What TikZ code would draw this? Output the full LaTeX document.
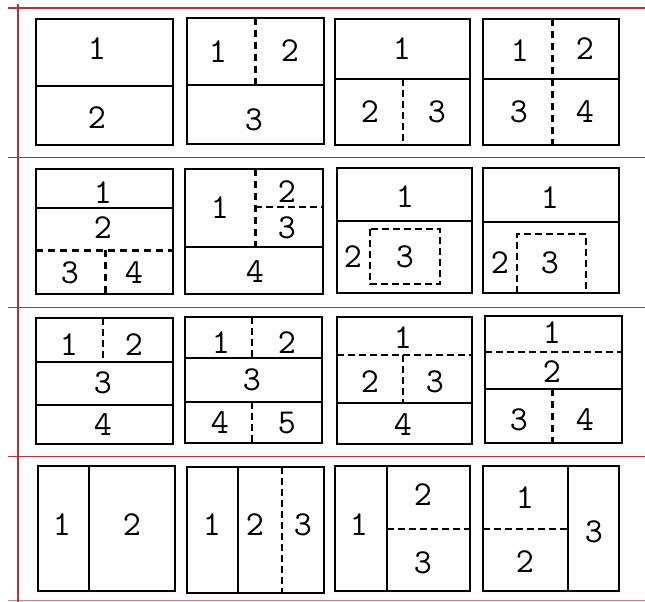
\documentclass[tikz,border=0pt]{standalone}
\definecolor{rule}{RGB}{180,50,60}
\begin{document}
\begin{tikzpicture}[x=1pt, y=-1pt,
    box/.style={draw, line width=1.4pt},
    cut/.style={line width=1.4pt},
    cutthick/.style={line width=2.2pt},
    dsh/.style={line width=1.3pt, dash pattern=on 7pt off 4pt},
    dshthick/.style={line width=3pt, dash pattern=on 7pt off 5pt},
    every node/.style={font=\ttfamily\fontsize{35}{35}\selectfont, inner sep=0pt}]
    \useasboundingbox (0,0) rectangle (645,602);

    % 红色分隔线
    \draw[rule, line width=2.4pt] (8,8) -- (645,8);
    \draw[rule, line width=1pt] (8,157) -- (645,157);
    \draw[rule, line width=1pt] (8,307) -- (645,307);
    \draw[rule, line width=1pt] (8,456) -- (645,456);
    \draw[rule!60, line width=1pt] (8,600) -- (645,600);
    \draw[rule, line width=1.2pt] (18,4) -- (18,602);

    % 第一行
    \draw[box] (36,19) rectangle (173,145);
    \draw[cut] (36,86) -- (173,86);
    \node (a1-1) at (97,49) {1};
    \node (a1-2) at (97,118) {2};

    \draw[box] (187,18) rectangle (324,144);
    \draw[cut] (187,85) -- (324,85);
    \draw[dshthick] (255,18) -- (255,85);
    \node (a2-1) at (218,52) {1};
    \node (a2-2) at (290,51) {2};
    \node (a2-3) at (254,120) {3};

    \draw[box] (335,19) rectangle (470,145);
    \draw[cut] (335,79) -- (470,79);
    \draw[dsh] (403,79) -- (403,145);
    \node (a3-1) at (402,49) {1};
    \node (a3-2) at (370,112) {2};
    \node (a3-3) at (437,112) {3};

    \draw[box] (483,19) rectangle (619,145);
    \draw[cut] (483,79) -- (619,79);
    \draw[dshthick] (552,19) -- (552,145);
    \node (a4-1) at (520,51) {1};
    \node (a4-2) at (585,49) {2};
    \node (a4-3) at (519,112) {3};
    \node (a4-4) at (585,112) {4};

    % 第二行
    \draw[box] (36,169) rectangle (173,294);
    \draw[cut] (36,208) -- (173,208);
    \draw[dshthick] (36,250) -- (173,250);
    \draw[dshthick] (105,250) -- (105,294);
    \node (b1-1) at (103,193) {1};
    \node (b1-2) at (103,228) {2};
    \node (b1-3) at (70,273) {3};
    \node (b1-4) at (134,273) {4};

    \draw[box] (185,169) rectangle (323,294);
    \draw[cut] (185,247) -- (323,247);
    \draw[dshthick] (255,169) -- (255,247);
    \draw[dsh] (255,207) -- (323,207);
    \node (b2-1) at (220,208) {1};
    \node (b2-2) at (287,192) {2};
    \node (b2-3) at (287,228) {3};
    \node (b2-4) at (255,272) {4};

    \draw[box] (337,168) rectangle (472,293);
    \draw[cut] (337,221) -- (472,221);
    \draw[dsh] (370,229) rectangle (440,284);
    \node (b3-1) at (405,197) {1};
    \node (b3-2) at (353,257) {2};
    \node (b3-3) at (405,257) {3};

    \draw[box] (483,168) rectangle (619,293);
    \draw[cut] (483,222) -- (619,222);
    \draw[dsh] (517,293) -- (517,234) -- (586,234) -- (586,293);
    \node (b4-1) at (550,198) {1};
    \node (b4-2) at (500,263) {2};
    \node (b4-3) at (550,263) {3};

    % 第三行
    \draw[box] (36,318) rectangle (173,444);
    \draw[cutthick] (36,362) -- (173,362);
    \draw[cut] (36,405) -- (173,405);
    \draw[dsh] (103,318) -- (103,362);
    \node (c1-1) at (69,345) {1};
    \node (c1-2) at (134,345) {2};
    \node (c1-3) at (103,383) {3};
    \node (c1-4) at (103,425) {4};

    \draw[box] (185,317) rectangle (322,443);
    \draw[cut] (185,358) -- (322,358);
    \draw[cut] (185,402) -- (322,402);
    \draw[dsh] (252,317) -- (252,358);
    \draw[dsh] (252,402) -- (252,443);
    \node (c2-1) at (221,343) {1};
    \node (c2-2) at (287,343) {2};
    \node (c2-3) at (252,380) {3};
    \node (c2-4) at (220,423) {4};
    \node (c2-5) at (287,423) {5};

    \draw[box] (337,317) rectangle (472,444);
    \draw[dsh] (337,355) -- (472,355);
    \draw[dsh] (403,355) -- (403,403);
    \draw[cut] (337,403) -- (472,403);
    \node (c3-1) at (403,338) {1};
    \node (c3-2) at (370,382) {2};
    \node (c3-3) at (435,382) {3};
    \node (c3-4) at (403,425) {4};

    \draw[box] (485,316) rectangle (622,443);
    \draw[dsh] (485,352) -- (622,352);
    \draw[cut] (485,389) -- (622,389);
    \draw[dshthick] (552,389) -- (552,443);
    \node (c4-1) at (552,333) {1};
    \node (c4-2) at (552,372) {2};
    \node (c4-3) at (519,420) {3};
    \node (c4-4) at (585,420) {4};

    % 第四行
    \draw[box] (38,466) rectangle (175,591);
    \draw[cut] (89,466) -- (89,591);
    \node (d1-1) at (62,525) {1};
    \node (d1-2) at (132,525) {2};

    \draw[box] (187,467) rectangle (324,593);
    \draw[cut] (238,467) -- (238,593);
    \draw[dsh] (282,467) -- (282,593);
    \node (d2-1) at (212,525) {1};
    \node (d2-2) at (255,525) {2};
    \node (d2-3) at (303,525) {3};

    \draw[box] (335,466) rectangle (470,591);
    \draw[cut] (387,466) -- (387,591);
    \draw[dsh] (387,529) -- (470,529);
    \node (d3-1) at (359,525) {1};
    \node (d3-2) at (423,495) {2};
    \node (d3-3) at (423,563) {3};

    \draw[box] (483,466) rectangle (619,591);
    \draw[cut] (568,466) -- (568,591);
    \draw[dsh] (483,529) -- (568,529);
    \node (d4-1) at (525,498) {1};
    \node (d4-2) at (525,562) {2};
    \node (d4-3) at (594,532) {3};
\end{tikzpicture}
\end{document}
